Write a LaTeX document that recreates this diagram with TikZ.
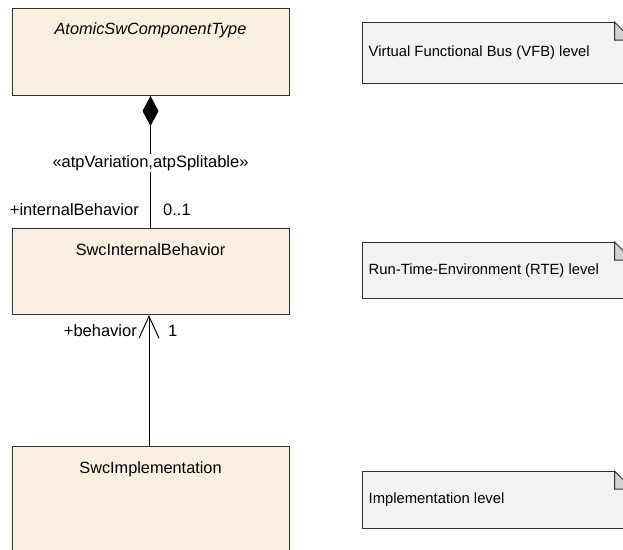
\documentclass[tikz,border=0pt]{standalone}
\usepackage{fontspec}
\setmainfont{Liberation Sans}
\usetikzlibrary{arrows.meta}
\definecolor{boxfill}{HTML}{FAF0E1}
\definecolor{notefill}{HTML}{F5F2F5}
\definecolor{foldfill}{HTML}{D4D0D4}
\definecolor{edge}{HTML}{303030}
\tikzset{
  classbox/.style={draw=edge, fill=boxfill, line width=1pt, anchor=north west, inner sep=0pt, minimum width=277pt},
  title/.style={font=\fontsize{16.3}{19}\selectfont, inner sep=0pt, anchor=center},
  notebox/.style={draw=edge, fill=notefill, line width=1pt, anchor=north west, inner sep=0pt, minimum width=270pt},
  notetext/.style={font=\fontsize{14.8}{17}\selectfont, inner sep=0pt, anchor=west},
  rolelabel/.style={font=\fontsize{16.5}{19}\selectfont, inner sep=0pt},
  conn/.style={draw=black, line width=1pt}
}
\begin{document}
\begin{tikzpicture}[x=1pt,y=-1pt]
\useasboundingbox (0,0) rectangle (623,549);
\clip (0,0) rectangle (623,549);
% class boxes
\node[classbox, minimum height=87pt] (b1) at (12,8) {};
\node[title] (t1) at (150.5,30) {\itshape AtomicSwComponentType};
\node[classbox, minimum height=86pt] (b2) at (12,228) {};
\node[title] (t2) at (150.5,250) {SwcInternalBehavior};
\node[classbox, minimum height=120pt] (b3) at (12,446) {};
\node[title] (t3) at (150.5,469) {SwcImplementation};
% notes
\foreach \n/\y/\h/\txt in {n1/22/61/{Virtual Functional Bus (VFB) level},
                         n2/242/56/{Run-Time-Environment (RTE) level},
                         n3/471/57/{Implementation level}}{
  \node[notebox, minimum height=\h pt] (\n) at (361.5,\y) {};
  \node[notetext] (\n t) at ([xshift=7pt]\n.west) {\txt};
  \fill[white] ([xshift=-18pt]\n.north east) -- (\n.north east) -- ([yshift=-18pt]\n.north east) -- cycle;
  \draw[draw=edge, fill=foldfill, line width=1pt, line join=miter]
    ([xshift=-18pt]\n.north east) -- ([xshift=-18pt,yshift=-18pt]\n.north east) -- ([yshift=-18pt]\n.north east) -- cycle;
}
% composition
\coordinate (c1) at (b1.south -| t1);
\coordinate (c2) at (b2.north -| t1);
\draw[conn, {Diamond[length=30pt,width=16pt,fill=black]}-] (c1) -- (c2);
\node[rolelabel, fill=white, inner sep=1pt] (st) at (150.5,163) {«atpVariation,atpSplitable»};
\node[rolelabel, anchor=east] (r1) at (139,210) {+internalBehavior};
\node[rolelabel, anchor=west] (m1) at (163,210) {0..1};
% association
\coordinate (a1) at (b3.north -| 149,0);
\coordinate (a2) at (b2.south -| 149,0);
\draw[conn, -{Straight Barb[length=22pt,width=20pt,line width=1pt]}, line join=miter] (a1) -- (a2);
\node[rolelabel, anchor=east] (r2) at (137,331) {+behavior};
\node[rolelabel, anchor=west] (m2) at (168,331) {1};
\end{tikzpicture}
\end{document}
